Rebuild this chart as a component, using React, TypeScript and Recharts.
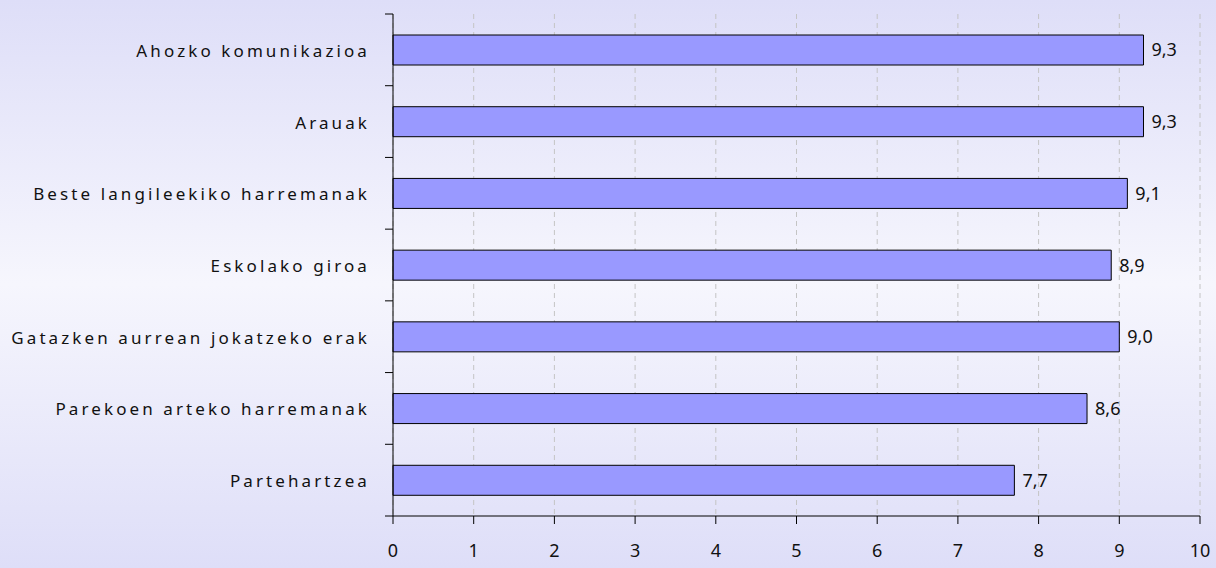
import {
  BarChart,
  Bar,
  XAxis,
  YAxis,
  CartesianGrid,
  LabelList,
} from 'recharts';

const categories = [
  'Ahozko komunikazioa',
  'Arauak',
  'Beste langileekiko harremanak',
  'Eskolako giroa',
  'Gatazken aurrean jokatzeko erak',
  'Parekoen arteko harremanak',
  'Partehartzea',
];
const values = [9.3, 9.3, 9.1, 8.9, 9.0, 8.6, 7.7];
const xTicks = [0, 1, 2, 3, 4, 5, 6, 7, 8, 9, 10];

const W = 1216;
const H = 568;
const MARGIN = { top: 14, right: 16, bottom: 0, left: 0 };
const X_AXIS_H = 52;
const Y_AXIS_W = 393;
const STEP = (H - MARGIN.top - X_AXIS_H) / categories.length;
const FONT = '"Noto Sans", sans-serif';

const data = categories.map((name, i) => ({ name, value: values[i] }));

// category labels + tick marks on the band boundaries
const CategoryTick = (props: any) => {
  const { x, y, payload, index } = props;
  const axisX = x + 23;
  return (
    <g>
      <text
        x={x}
        y={y}
        dy={7}
        textAnchor="end"
        fill="#111"
        fontSize={17}
        fontFamily={FONT}
        letterSpacing={3.1}
      >
        {payload.value}
      </text>
      <line x1={axisX - 8} x2={axisX} y1={y - STEP / 2} y2={y - STEP / 2} stroke="#000" />
      {index === categories.length - 1 && (
        <line x1={axisX - 8} x2={axisX} y1={y + STEP / 2} y2={y + STEP / 2} stroke="#000" />
      )}
    </g>
  );
};

export default function App() {
  return (
    <div
      style={{
        position: 'fixed',
        left: 0,
        top: 0,
        width: W,
        height: H,
        background: 'linear-gradient(to bottom, #dedef8 0%, #f6f6fd 50%, #dedef8 100%)',
      }}
    >
      <BarChart width={W} height={H} data={data} layout="vertical" margin={MARGIN}>
        <CartesianGrid horizontal={false} stroke="#c4c4c4" strokeDasharray="5 4" />
        <XAxis
          type="number"
          domain={[0, 10]}
          ticks={xTicks}
          interval={0}
          height={X_AXIS_H}
          stroke="#000"
          tickSize={8}
          tickMargin={20}
          tick={{ fill: '#111', fontSize: 18, fontFamily: FONT }}
        />
        <YAxis
          type="category"
          dataKey="name"
          width={Y_AXIS_W}
          stroke="#000"
          tickLine={false}
          tickSize={0}
          tickMargin={23}
          interval={0}
          tick={<CategoryTick />}
        />
        <Bar dataKey="value" fill="#9999ff" stroke="#000" strokeWidth={1} barSize={30} isAnimationActive={false}>
          <LabelList
            dataKey="value"
            position="right"
            offset={8}
            formatter={(v: any) => Number(v).toFixed(1).replace('.', ',')}
            style={{ fill: '#111', fontSize: 18, fontFamily: FONT }}
          />
        </Bar>
      </BarChart>
    </div>
  );
}
